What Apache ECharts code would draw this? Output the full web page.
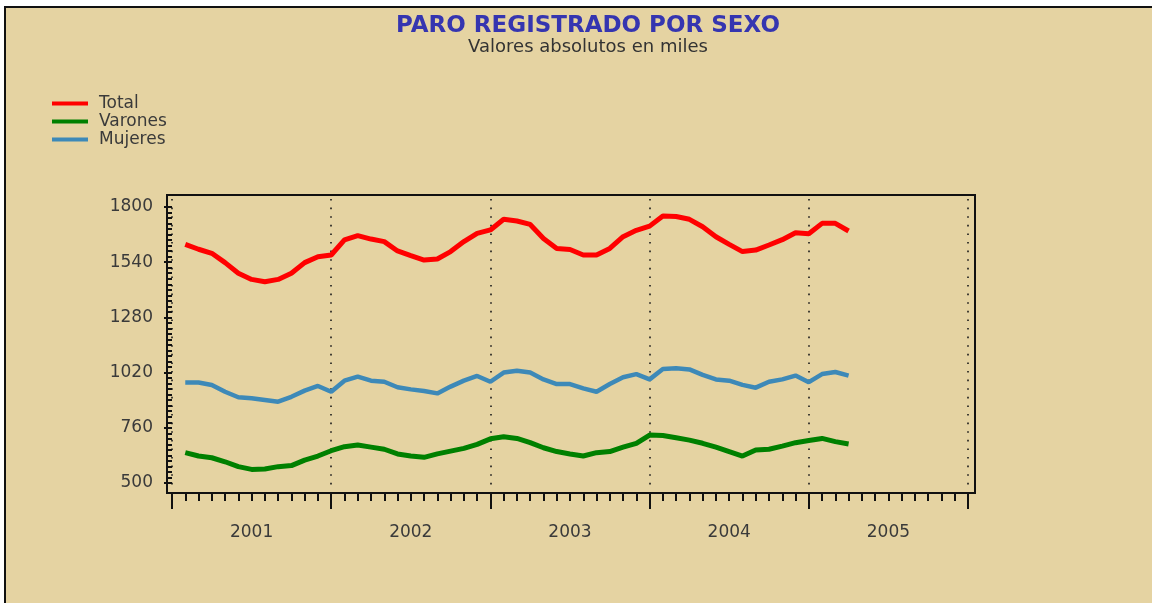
<!DOCTYPE html>
<html>
<head>
<meta charset="utf-8">
<script src="https://cdn.jsdelivr.net/npm/echarts@6/dist/echarts.min.js"></script>
<style>
  html, body { margin: 0; padding: 0; background: #fff; }
  #chart { width: 1152px; height: 603px; }
</style>
</head>
<body>
<div id="chart"></div>
<script>
// monthly series, Jan 2001 .. Mar 2005 (thousands)
const months = [
  '2001-01','2001-02','2001-03','2001-04','2001-05','2001-06','2001-07','2001-08','2001-09','2001-10','2001-11','2001-12',
  '2002-01','2002-02','2002-03','2002-04','2002-05','2002-06','2002-07','2002-08','2002-09','2002-10','2002-11','2002-12',
  '2003-01','2003-02','2003-03','2003-04','2003-05','2003-06','2003-07','2003-08','2003-09','2003-10','2003-11','2003-12',
  '2004-01','2004-02','2004-03','2004-04','2004-05','2004-06','2004-07','2004-08','2004-09','2004-10','2004-11','2004-12',
  '2005-01','2005-02','2005-03'
];
const years = ['2001', '2002', '2003', '2004', '2005'];

const total = [
  1624, 1601, 1582, 1538, 1488, 1459, 1448, 1459, 1488, 1538, 1566, 1574,
  1645, 1665, 1649, 1637, 1593, 1571, 1550, 1555, 1590, 1637, 1676, 1692,
  1742, 1734, 1718, 1652, 1605, 1600, 1574, 1574, 1605, 1660, 1690, 1710,
  1758, 1755, 1742, 1707, 1660, 1624, 1590, 1597, 1621, 1646, 1679, 1674,
  1723, 1723, 1687
];
const varones = [
  643, 627, 619, 600, 577, 564, 566, 577, 582, 608, 627, 652,
  671, 679, 669, 659, 637, 627, 621, 637, 650, 663, 682, 708,
  718, 710, 690, 666, 648, 637, 627, 643, 648, 669, 687, 726,
  724, 713, 702, 687, 669, 648, 627, 655, 659, 674, 690, 700,
  710, 695, 684
];
const mujeres = [
  973, 973, 962, 930, 904, 899, 891, 883, 906, 935, 957, 930,
  982, 1001, 982, 977, 951, 941, 933, 922, 954, 982, 1004, 977,
  1020, 1029, 1020, 988, 966, 966, 946, 930, 966, 998, 1013, 988,
  1037, 1040, 1035, 1009, 988, 982, 962, 949, 977, 988, 1006, 975,
  1013, 1023, 1006
];

const FONT = 'DejaVu Sans';
const TEXT = '#3a3a3a';

// each month plotted at its end (Jan 2001 -> 1)
const toPoints = arr => arr.map((v, i) => [i + 1, v]);

const chart = echarts.init(document.getElementById('chart'));

chart.setOption({
  backgroundColor: '#e5d3a2',
  animation: false,
  title: {
    text: 'PARO REGISTRADO POR SEXO',
    subtext: 'Valores absolutos en miles',
    left: 583,
    textAlign: 'center',
    top: 10,
    itemGap: 0,
    textStyle: { fontFamily: FONT, fontSize: 23, fontWeight: 'bold', color: '#3535b0' },
    subtextStyle: { fontFamily: FONT, fontSize: 18, color: '#333' }
  },
  legend: {
    orient: 'vertical',
    left: 47,
    top: 90,
    icon: 'rect',
    itemWidth: 36,
    itemHeight: 4,
    itemGap: 1,
    data: ['Total', 'Varones', 'Mujeres'],
    textStyle: { fontFamily: FONT, fontSize: 17, color: TEXT, lineHeight: 16.5, padding: [0, 0, 0, 6] }
  },
  graphic: [
    { type: 'rect', shape: { x: 0, y: 0, width: 1152, height: 6 }, style: { fill: '#fff' }, silent: true },
    { type: 'rect', shape: { x: 0, y: 0, width: 4, height: 603 }, style: { fill: '#fff' }, silent: true },
    { type: 'rect', shape: { x: 4, y: 6, width: 1148, height: 2 }, style: { fill: '#111' }, silent: true },
    { type: 'rect', shape: { x: 4, y: 6, width: 2, height: 597 }, style: { fill: '#111' }, silent: true }
  ],
  grid: [
    // data area: Jan 2001 .. Jan 2006 across, 500 .. 1800 up
    { left: 172, right: 184, top: 207, bottom: 120 },
    // frame
    { left: 167, right: 177, top: 195, bottom: 110, show: true, borderColor: '#111', borderWidth: 2, backgroundColor: 'transparent' },
    // dotted year lines
    { left: 172, right: 184, top: 199, bottom: 118 }
  ],
  xAxis: [
    {
      gridIndex: 0, type: 'value', min: 0, max: 60, interval: 12,
      position: 'bottom', offset: 10,
      axisLine: { show: false },
      axisTick: { show: true, length: 16, lineStyle: { color: '#111', width: 2 } },
      minorTick: { show: true, splitNumber: 12, length: 8, lineStyle: { color: '#111', width: 2 } },
      axisLabel: { show: false },
      splitLine: { show: false }
    },
    {
      gridIndex: 0, type: 'category', data: years, boundaryGap: true,
      position: 'bottom', offset: 10,
      axisLine: { show: false }, axisTick: { show: false },
      axisLabel: { fontFamily: FONT, fontSize: 17, color: TEXT, margin: 31 }
    },
    { gridIndex: 1, type: 'value', show: false, min: 0, max: 1 },
    {
      gridIndex: 2, type: 'value', min: 0, max: 60, interval: 12,
      axisLine: { show: false }, axisTick: { show: false }, axisLabel: { show: false },
      splitLine: { show: true, lineStyle: { color: '#1a1a1a', width: 1.6, type: [1.6, 7] } }
    }
  ],
  yAxis: [
    {
      gridIndex: 0, type: 'value', min: 500, max: 1800, interval: 260,
      position: 'left', offset: 5,
      axisLine: { show: false },
      axisTick: { show: true, length: 8, lineStyle: { color: '#111', width: 2 } },
      minorTick: { show: true, splitNumber: 10, length: 5, lineStyle: { color: '#111', width: 2 } },
      axisLabel: { fontFamily: FONT, fontSize: 17, color: TEXT, margin: 14, formatter: v => String(v) },
      splitLine: { show: false }
    },
    { gridIndex: 1, type: 'value', show: false, min: 0, max: 1 },
    { gridIndex: 2, type: 'value', show: false, min: 0, max: 1 }
  ],
  series: [
    {
      name: 'Total', type: 'line', xAxisIndex: 0, yAxisIndex: 0,
      data: toPoints(total), showSymbol: false, color: '#ff0000',
      lineStyle: { width: 5, color: '#ff0000' }
    },
    {
      name: 'Varones', type: 'line', xAxisIndex: 0, yAxisIndex: 0,
      data: toPoints(varones), showSymbol: false, color: '#008000',
      lineStyle: { width: 5, color: '#008000' }
    },
    {
      name: 'Mujeres', type: 'line', xAxisIndex: 0, yAxisIndex: 0,
      data: toPoints(mujeres), showSymbol: false, color: '#3d89b8',
      lineStyle: { width: 4.5, color: '#3d89b8' }
    }
  ]
});
</script>
</body>
</html>
